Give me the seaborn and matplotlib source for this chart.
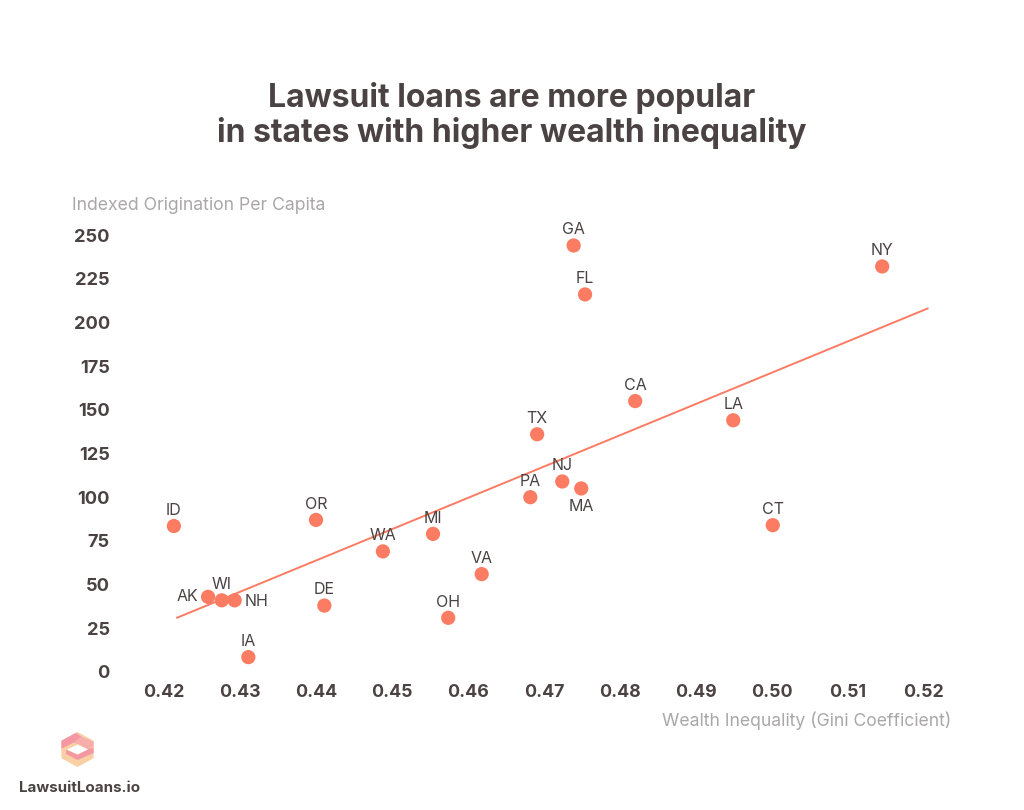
import numpy as np
import pandas as pd
import matplotlib
matplotlib.use("Agg")
import matplotlib.pyplot as plt
from matplotlib.patches import Polygon
import seaborn as sns

states = ["ID", "AK", "WI", "NH", "IA", "DE", "OR", "WA", "MI", "OH", "VA",
          "PA", "TX", "NJ", "MA", "GA", "FL", "CA", "LA", "CT", "NY"]
gini = [0.4213, 0.4258, 0.4276, 0.4293, 0.4311, 0.4411, 0.4400, 0.4488, 0.4554, 0.4574, 0.4618,
        0.4682, 0.4691, 0.4724, 0.4749, 0.4739, 0.4754, 0.4820, 0.4949, 0.5001, 0.5145]
origination = [83.5, 43, 41, 41, 8.5, 38, 87, 69, 79, 31, 56,
               100, 136, 109, 105, 244, 216, 155, 144, 84, 232]
trend_x = [0.4217, 0.5205]
trend_y = [31, 208]
x_ticks = [0.42, 0.43, 0.44, 0.45, 0.46, 0.47, 0.48, 0.49, 0.50, 0.51, 0.52]
y_ticks = [0, 25, 50, 75, 100, 125, 150, 175, 200, 225, 250]

# label offsets in points, default is centred above the marker
label_offsets = {"AK": (-15, 0), "NH": (16, -1), "MA": (0, -13), "NJ": (0, 11.5)}

DARK = "#4a4243"
GREY = "#aaa7a8"
CORAL = "#fb7b63"

sns.set_theme(style="white")
plt.rcParams["font.family"] = ["Inter", "DejaVu Sans"]

df = pd.DataFrame({"state": states, "gini": gini, "origination": origination})

W, H = 1024, 810
fig = plt.figure(figsize=(W / 100, H / 100), dpi=100, facecolor="white")
ax = fig.add_axes([164 / W, 1 - 672 / H, 760 / W, 437 / H])
ax.patch.set_alpha(0)

sns.lineplot(x=trend_x, y=trend_y, color=CORAL, linewidth=1.4, ax=ax)
for l in ax.get_lines():
    l.set_clip_on(False)
sns.scatterplot(data=df, x="gini", y="origination", color=CORAL, s=105,
                edgecolor="none", zorder=3, clip_on=False, ax=ax)

for _, row in df.iterrows():
    dx, dy = label_offsets.get(row["state"], (0, 11.3))
    ax.annotate(row["state"], (row["gini"], row["origination"]),
                xytext=(dx, dy), textcoords="offset points",
                ha="center", va="center", fontsize=11.5, color=DARK)

ax.set_xlim(0.42, 0.52)
ax.set_ylim(0, 250)
ax.set_xticks(x_ticks, [f"{t:.2f}" for t in x_ticks])
ax.set_yticks(y_ticks)
ax.tick_params(axis="both", length=0, labelcolor=DARK)
ax.tick_params(axis="x", pad=8.5, labelsize=12.8)
ax.tick_params(axis="y", pad=39, labelsize=13.2)
for t in ax.get_xticklabels() + ax.get_yticklabels():
    t.set_fontweight("bold")
ax.set_xlabel("")
ax.set_ylabel("")
sns.despine(ax=ax, left=True, bottom=True)

fig.text(512 / W, 1 - 98 / H, "Lawsuit loans are more popular", ha="center", va="center",
         fontsize=23, fontweight="bold", color=DARK)
fig.text(512 / W, 1 - 133 / H, "in states with higher wealth inequality", ha="center", va="center",
         fontsize=23, fontweight="bold", color=DARK)
fig.text(72 / W, 1 - 206 / H, "Indexed Origination Per Capita", ha="left", va="center",
         fontsize=12.7, color=GREY)
fig.text(951 / W, 1 - 721 / H, "Wealth Inequality (Gini Coefficient)", ha="right", va="center",
         fontsize=12.7, color=GREY)
fig.text(80 / W, 1 - 788 / H, "LawsuitLoans.io", ha="center", va="center",
         fontsize=10.9, fontweight="bold", color=DARK)

# logo: peach hexagon, pink ribbons around a white diamond
logo = fig.add_axes([60 / W, 1 - 767 / H, 35 / W, 35 / H])
logo.set_xlim(-1, 1)
logo.set_ylim(-1, 1)
logo.axis("off")
angles = np.deg2rad([90, 30, -30, -90, -150, 150])
hexagon = np.c_[1.06 * np.cos(angles), 1.0 * np.sin(angles)]
logo.add_patch(Polygon(hexagon, closed=True, facecolor="#f9cfa4", edgecolor="none"))
logo.add_patch(Polygon([(-0.92, 0.5), (-0.1, 0.95), (0.25, 0.72), (-0.3, 0.35), (-0.92, 0.05)],
                       closed=True, facecolor="#f596a3", edgecolor="none"))
logo.add_patch(Polygon([(-0.25, 0.38), (0.25, 0.72), (0.92, 0.45), (0.92, 0.15), (0.6, 0.0), (0.1, 0.3)],
                       closed=True, facecolor="#f7aeaa", edgecolor="none"))
logo.add_patch(Polygon([(-0.65, 0.0), (-0.65, -0.25), (0.0, -0.6), (0.92, -0.2), (0.92, 0.1), (0.55, 0.0), (0.0, -0.3)],
                       closed=True, facecolor="#f596a3", edgecolor="none"))
logo.add_patch(Polygon([(-0.6, 0), (0, 0.28), (0.6, 0), (0, -0.28)], closed=True,
                       facecolor="white", edgecolor="none"))

fig.savefig("out.png", dpi=100)
